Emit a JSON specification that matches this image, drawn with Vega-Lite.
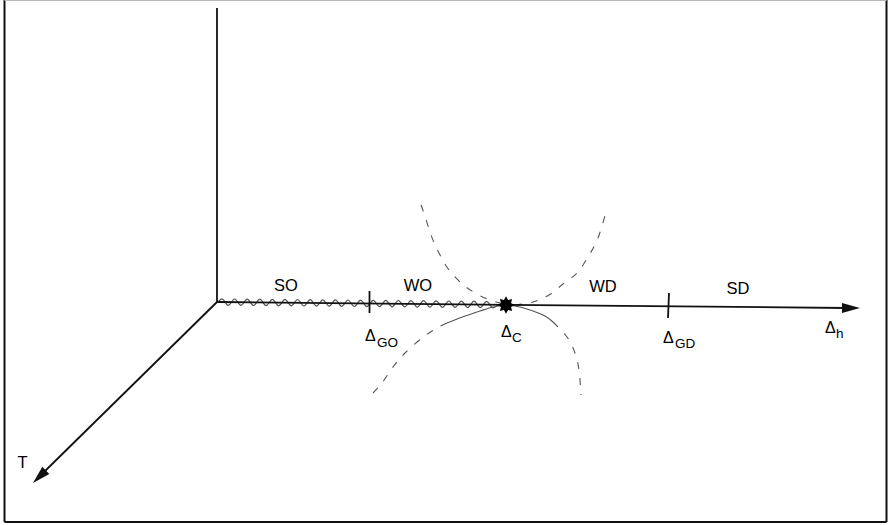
{
  "$schema": "https://vega.github.io/schema/vega-lite/v6.json",
  "width": 888,
  "height": 525,
  "padding": 0,
  "autosize": {"type": "none"},
  "background": "white",
  "config": {"view": {"stroke": null}},
  "datasets": {
    "segs": [
      {"kind": "axis", "x": 217, "y": 8, "x2": 217, "y2": 302},
      {"kind": "axis", "x": 217, "y": 302, "x2": 846, "y2": 308},
      {"kind": "axis", "x": 217, "y": 302, "x2": 44, "y2": 472},
      {"kind": "tick", "x": 369.5, "y": 291, "x2": 369.5, "y2": 313},
      {"kind": "tick", "x": 669, "y": 293, "x2": 668, "y2": 318},
      {"kind": "frame", "x": 4.5, "y": 0, "x2": 4.5, "y2": 522},
      {"kind": "frame", "x": 4.5, "y": 522, "x2": 886.5, "y2": 522},
      {"kind": "frame", "x": 886.5, "y": 0, "x2": 886.5, "y2": 522},
      {"kind": "top", "x": 4.5, "y": 0.5, "x2": 886.5, "y2": 0.5}
    ],
    "wave": [
      {"x": 218, "y": 302},
      {"x": 222, "y": 298.8}, {"x": 228.3, "y": 305.3}, {"x": 234.6, "y": 299.0}, {"x": 240.9, "y": 305.4},
      {"x": 247.2, "y": 299.1}, {"x": 253.5, "y": 305.5}, {"x": 259.8, "y": 299.2}, {"x": 266.1, "y": 305.7},
      {"x": 272.4, "y": 299.3}, {"x": 278.7, "y": 305.8}, {"x": 285, "y": 299.4}, {"x": 291.3, "y": 305.9},
      {"x": 297.6, "y": 299.5}, {"x": 303.9, "y": 306.0}, {"x": 310.2, "y": 299.7}, {"x": 316.5, "y": 306.1},
      {"x": 322.8, "y": 299.8}, {"x": 329.1, "y": 306.2}, {"x": 335.4, "y": 299.9}, {"x": 341.7, "y": 306.4},
      {"x": 348, "y": 300.0}, {"x": 354.3, "y": 306.5}, {"x": 360.6, "y": 300.1}, {"x": 366.9, "y": 306.6},
      {"x": 373.2, "y": 300.3}, {"x": 379.5, "y": 306.7}, {"x": 385.8, "y": 300.4}, {"x": 392.1, "y": 306.8},
      {"x": 398.4, "y": 300.5}, {"x": 404.7, "y": 306.9}, {"x": 411, "y": 300.6}, {"x": 417.3, "y": 307.1},
      {"x": 423.6, "y": 300.7}, {"x": 429.9, "y": 307.2}, {"x": 436.2, "y": 300.8}, {"x": 442.5, "y": 307.3},
      {"x": 448.8, "y": 301.0}, {"x": 455.1, "y": 307.4}, {"x": 461.4, "y": 301.1}, {"x": 467.7, "y": 307.5},
      {"x": 474, "y": 301.2}, {"x": 480.3, "y": 307.6}, {"x": 486.6, "y": 301.3}, {"x": 492.9, "y": 307.8},
      {"x": 498, "y": 304.6}
    ],
    "curves": [
      {"seg": "UL", "style": "dash", "x": 421, "y": 205},
      {"seg": "UL", "style": "dash", "x": 425, "y": 216},
      {"seg": "UL", "style": "dash", "x": 431, "y": 235},
      {"seg": "UL", "style": "dash", "x": 439, "y": 253},
      {"seg": "UL", "style": "dash", "x": 449, "y": 270},
      {"seg": "UL", "style": "dash", "x": 466, "y": 287},
      {"seg": "UL", "style": "dash", "x": 487, "y": 299},
      {"seg": "UL", "style": "dash", "x": 505, "y": 304},
      {"seg": "LLd", "style": "dash", "x": 373, "y": 393},
      {"seg": "LLd", "style": "dash", "x": 382, "y": 383},
      {"seg": "LLd", "style": "dash", "x": 393, "y": 367},
      {"seg": "LLd", "style": "dash", "x": 405, "y": 353},
      {"seg": "LLd", "style": "dash", "x": 422, "y": 338},
      {"seg": "LLd", "style": "dash", "x": 437, "y": 328},
      {"seg": "LLd", "style": "dash", "x": 447, "y": 323},
      {"seg": "LLs", "style": "solid", "x": 447, "y": 323},
      {"seg": "LLs", "style": "solid", "x": 465, "y": 316},
      {"seg": "LLs", "style": "solid", "x": 480, "y": 311},
      {"seg": "LLs", "style": "solid", "x": 493, "y": 307},
      {"seg": "LLs", "style": "solid", "x": 505, "y": 305},
      {"seg": "UR", "style": "dash", "x": 515, "y": 305},
      {"seg": "UR", "style": "dash", "x": 533, "y": 302},
      {"seg": "UR", "style": "dash", "x": 549, "y": 295},
      {"seg": "UR", "style": "dash", "x": 563, "y": 284},
      {"seg": "UR", "style": "dash", "x": 577, "y": 273},
      {"seg": "UR", "style": "dash", "x": 588, "y": 257},
      {"seg": "UR", "style": "dash", "x": 598, "y": 238},
      {"seg": "UR", "style": "dash", "x": 606, "y": 212},
      {"seg": "LRs", "style": "solid", "x": 508, "y": 305},
      {"seg": "LRs", "style": "solid", "x": 520, "y": 307},
      {"seg": "LRs", "style": "solid", "x": 533, "y": 311},
      {"seg": "LRs", "style": "solid", "x": 545, "y": 316},
      {"seg": "LRs", "style": "solid", "x": 553, "y": 322},
      {"seg": "LRd", "style": "dash", "x": 553, "y": 322},
      {"seg": "LRd", "style": "dash", "x": 567, "y": 337},
      {"seg": "LRd", "style": "dash", "x": 575, "y": 353},
      {"seg": "LRd", "style": "dash", "x": 579, "y": 370},
      {"seg": "LRd", "style": "dash", "x": 581, "y": 395}
    ],
    "labels": [
      {"t": "SO", "x": 286, "y": 291},
      {"t": "WO", "x": 418, "y": 291},
      {"t": "WD", "x": 603, "y": 292},
      {"t": "SD", "x": 738, "y": 294},
      {"t": "T", "x": 22.5, "y": 468}
    ],
    "deltas": [
      {"t": "Δ", "x": 365, "y": 341},
      {"t": "Δ", "x": 501, "y": 337},
      {"t": "Δ", "x": 663, "y": 343},
      {"t": "Δ", "x": 825, "y": 333}
    ],
    "subs": [
      {"t": "GO", "x": 377, "y": 347},
      {"t": "C", "x": 512, "y": 342},
      {"t": "GD", "x": 675, "y": 348},
      {"t": "h", "x": 836, "y": 338}
    ],
    "arrows": [
      {"name": "h", "x": 851, "y": 308},
      {"name": "T", "x": 39.4, "y": 476.7}
    ],
    "star": [
      {"x": 506, "y": 305}
    ]
  },
  "encoding": {
    "x": {"field": "x", "type": "quantitative", "scale": {"domain": [0, 888], "nice": false, "zero": false}, "axis": null},
    "y": {"field": "y", "type": "quantitative", "scale": {"domain": [0, 525], "nice": false, "zero": false, "reverse": true}, "axis": null}
  },
  "layer": [
    {
      "data": {"name": "segs"},
      "transform": [{"filter": "datum.kind === 'frame'"}],
      "mark": {"type": "rule", "color": "#111", "strokeWidth": 2},
      "encoding": {"x2": {"field": "x2"}, "y2": {"field": "y2"}}
    },
    {
      "data": {"name": "segs"},
      "transform": [{"filter": "datum.kind === 'top'"}],
      "mark": {"type": "rule", "color": "#bbb", "strokeWidth": 1},
      "encoding": {"x2": {"field": "x2"}, "y2": {"field": "y2"}}
    },
    {
      "data": {"name": "curves"},
      "transform": [{"filter": "datum.style === 'dash'"}],
      "mark": {"type": "line", "color": "#555", "strokeWidth": 1.1, "strokeDash": [7, 9], "interpolate": "cardinal"},
      "encoding": {"detail": {"field": "seg"}}
    },
    {
      "data": {"name": "curves"},
      "transform": [{"filter": "datum.style === 'solid'"}],
      "mark": {"type": "line", "color": "#555", "strokeWidth": 1.1, "interpolate": "cardinal"},
      "encoding": {"detail": {"field": "seg"}}
    },
    {
      "data": {"name": "wave"},
      "mark": {"type": "line", "color": "#555", "strokeWidth": 1.2, "interpolate": "monotone"},
      "encoding": {}
    },
    {
      "data": {"name": "segs"},
      "transform": [{"filter": "datum.kind === 'axis'"}],
      "mark": {"type": "rule", "color": "#111", "strokeWidth": 1.8},
      "encoding": {"x2": {"field": "x2"}, "y2": {"field": "y2"}}
    },
    {
      "data": {"name": "segs"},
      "transform": [{"filter": "datum.kind === 'tick'"}],
      "mark": {"type": "rule", "color": "#111", "strokeWidth": 1.8},
      "encoding": {"x2": {"field": "x2"}, "y2": {"field": "y2"}}
    },
    {
      "data": {"name": "arrows"},
      "transform": [{"filter": "datum.name === 'h'"}],
      "mark": {"type": "point", "shape": "M0,-1 L0.55,1 L-0.55,1 Z", "filled": true, "color": "#111", "opacity": 1, "size": 324, "angle": 90}
    },
    {
      "data": {"name": "arrows"},
      "transform": [{"filter": "datum.name === 'T'"}],
      "mark": {"type": "point", "shape": "M0,-1 L0.55,1 L-0.55,1 Z", "filled": true, "color": "#111", "opacity": 1, "size": 324, "angle": 225.5}
    },
    {
      "data": {"name": "star"},
      "mark": {"type": "point", "shape": "M0,-1 L0.24,-0.58 L0.707,-0.707 L0.58,-0.24 L1,0 L0.58,0.24 L0.707,0.707 L0.24,0.58 L0,1 L-0.24,0.58 L-0.707,0.707 L-0.58,0.24 L-1,0 L-0.58,-0.24 L-0.707,-0.707 L-0.24,-0.58 Z", "filled": true, "color": "#000", "opacity": 1, "size": 300}
    },
    {
      "data": {"name": "labels"},
      "mark": {"type": "text", "font": "Liberation Sans", "fontSize": 16.5, "align": "center", "baseline": "alphabetic", "color": "#000"},
      "encoding": {"text": {"field": "t"}}
    },
    {
      "data": {"name": "deltas"},
      "mark": {"type": "text", "font": "Liberation Sans", "fontSize": 16, "align": "left", "baseline": "alphabetic", "color": "#000"},
      "encoding": {"text": {"field": "t"}}
    },
    {
      "data": {"name": "subs"},
      "mark": {"type": "text", "font": "Liberation Sans", "fontSize": 13.5, "align": "left", "baseline": "alphabetic", "color": "#000"},
      "encoding": {"text": {"field": "t"}}
    }
  ]
}
